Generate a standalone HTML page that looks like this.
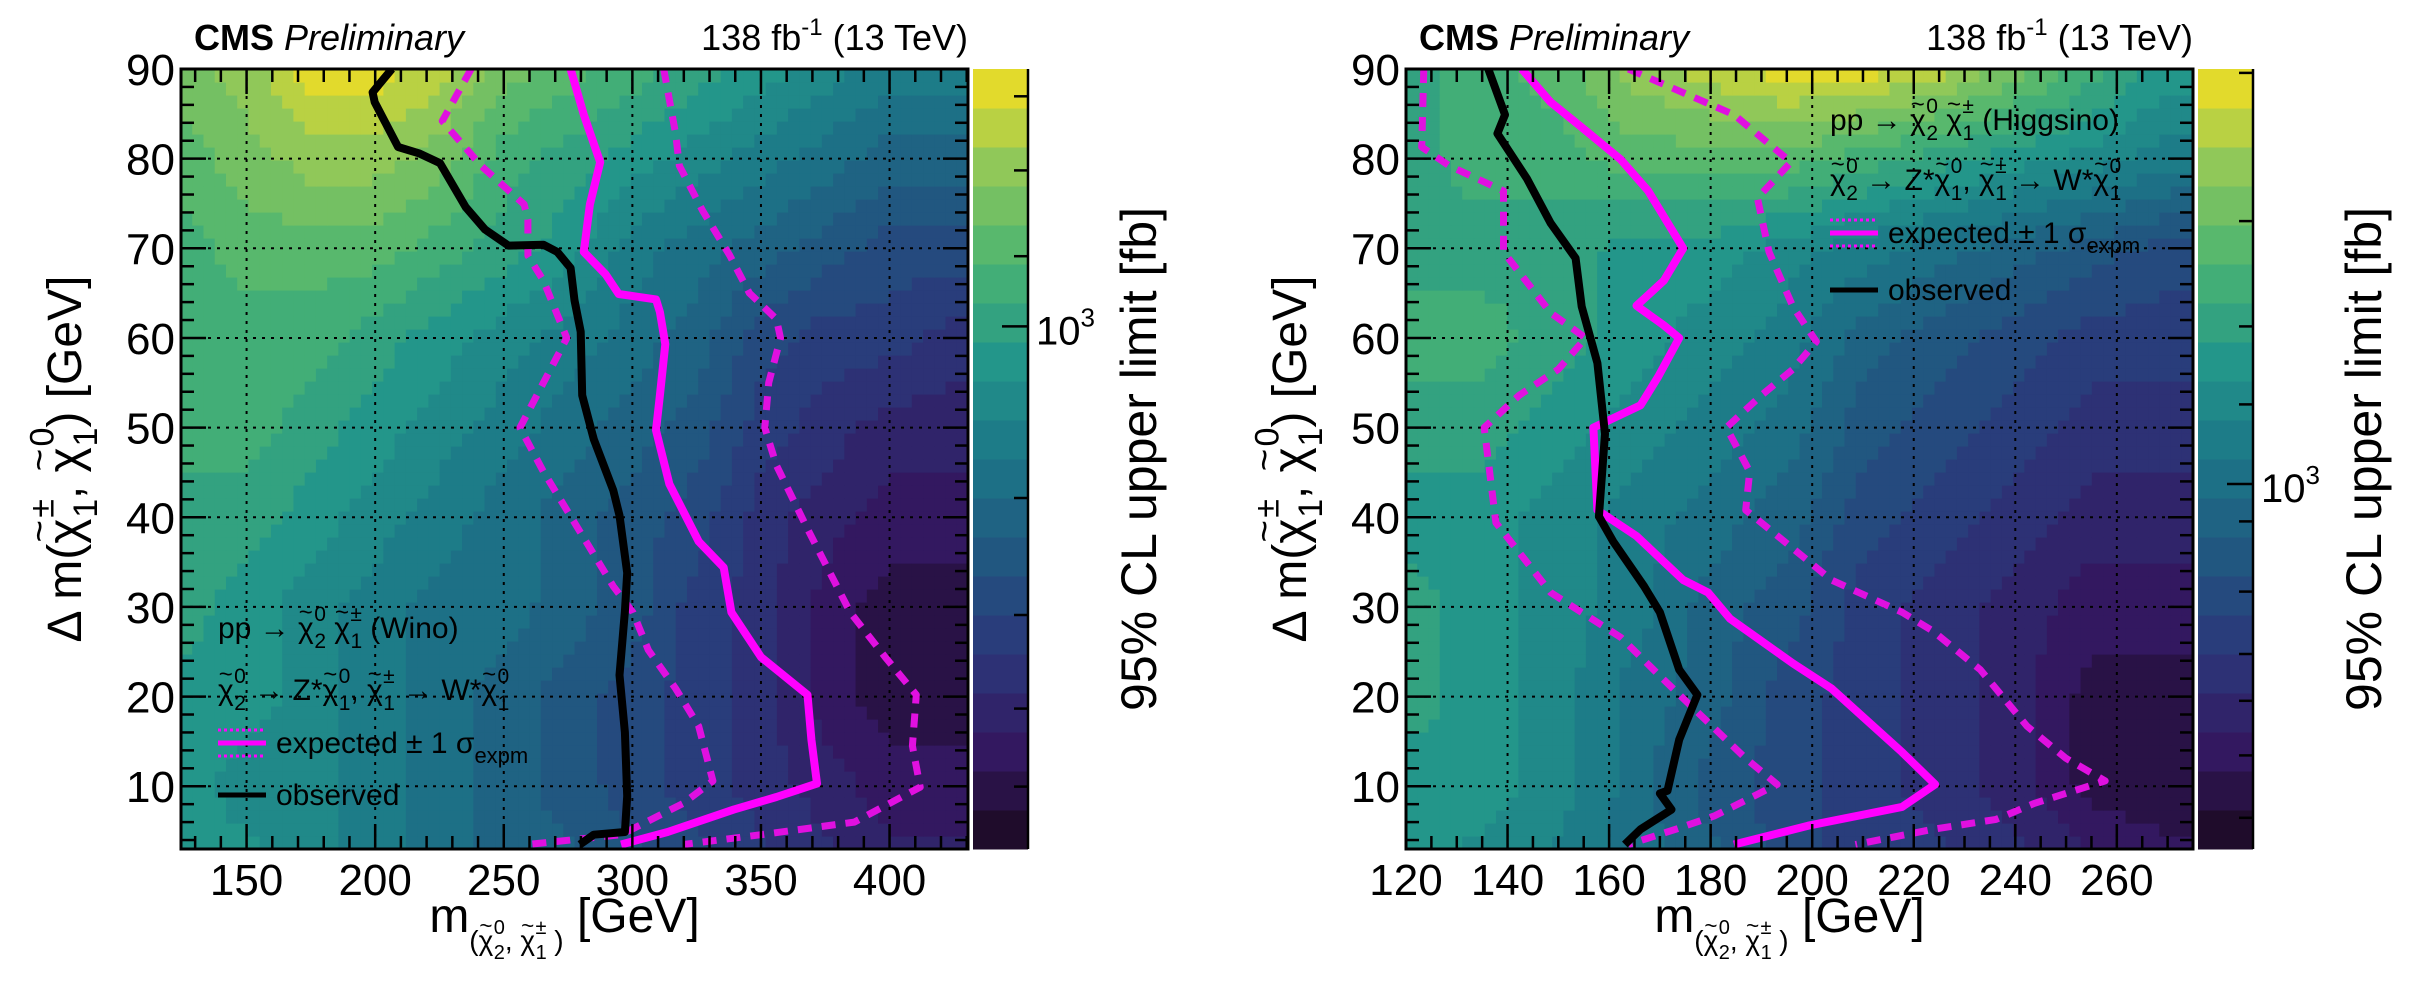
<!DOCTYPE html>
<html><head><meta charset="utf-8">
<style>
html,body{margin:0;padding:0;background:#fff;}
svg{display:block;font-family:"Liberation Sans",Arial,sans-serif;}
</style></head>
<body>
<svg id="fig" width="2435" height="998" viewBox="0 0 2435 998" xmlns="http://www.w3.org/2000/svg"></svg>
<script>
// ---------- DATA (Wino, left) ----------
const winoXGrid = [125,150,175,200,225,250,275,300,325,350,375,400,425];
const winoYGrid = [90,80,70,60,50,40,30,20,10,0];
const winoLevels = [
 [16,17,19,19,18,16,15,14,13,12,11,10,10],
 [15,16,17,17,16,14,13,12,11,10,9,8,8],
 [14,15,15,15,14,13,12,10,9,8,7,6,6],
 [14,14,14,13,12,11,10,9,8,6,5,5,4],
 [14,14,13,12,11,10,9,8,7,5,4,3,3],
 [13,13,12,11,10,9,8,7,6,4,3,2,2],
 [13,12,11,10,9,9,8,7,5,4,2,1,1],
 [12,12,11,10,9,8,7,6,5,4,2,1,1],
 [12,11,11,10,9,8,7,6,5,4,3,2,2],
 [12,12,11,10,9,8,8,7,6,5,4,3,3]];
const winoObsX = [206.5,199,199.8,208.9,217,225.2,235.2,242.7,251.8,265.4,270.8,276,277.5,279.9,280.5,285,292.6,295,298,297.1,295,297.1,298,297.1,285,279.6];
const winoObsY = [90,87.4,86.3,81.3,80.6,79.5,74.6,72.1,70.3,70.4,69.6,67.8,64.2,60.7,53.6,48.7,43,40.2,33.8,29.5,22.4,16,8.9,4.9,4.6,3.5];
const winoExpX = [276,281.1,287.5,283.5,281.1,289.6,294.7,309.2,310.7,312.8,310.7,309.2,314.4,325.8,335.5,338.5,350,368.1,369.6,371.8,356,339.4,313.7,295.6];
const winoExpY = [90,84.9,79.6,74.9,69.6,67.1,64.9,64.3,62.9,59.3,53.6,49.7,43.7,37.3,34.4,29.4,24.4,20.2,15.2,10.3,8.8,7.4,4.9,3.5];
const winoExpDnX = [237.3,226.1,241.2,257.9,259.4,259.4,265.4,274.5,265.4,256.3,265.4,277.5,292.6,300.2,306.2,316.8,325.8,331.3,319.8,295.6,259.4];
const winoExpDnY = [90,84.2,79.2,74.9,73.2,69.2,66.4,60,55,50,45.1,39.4,32.3,29.4,25.2,20.9,16.7,10.6,8.1,4.6,3.5];
const winoExpUpX = [312.2,316.8,318.3,327.3,337.9,345.5,356,357.6,353,351.5,356,368.1,384.7,398.3,410.4,408.9,411.9,386.3,350,319.8];
const winoExpUpY = [90,82.8,79.2,74.2,69.2,65,62.1,60,55,50,45.8,38.7,29.4,24.4,20.2,14.5,9.9,6,4.6,3.5];
const winoXTicks = [150,200,250,300,350,400];
// ---------- DATA (Higgsino, right) ----------
const higXGrid = [120,135,150,165,180,195,210,225,240,255,270];
const higYGrid = [90,80,70,60,50,40,30,20,10,0];
const higLevels = [
 [13,14,15,17,18,19,19,18,16,14,12],
 [13,14,14,15,15,15,14,13,12,11,10],
 [13,13,13,12,12,11,10,9,8,7,6],
 [14,14,13,12,11,10,8,7,6,5,5],
 [13,13,12,11,10,9,7,6,5,4,4],
 [12,12,11,10,9,8,6,5,4,3,3],
 [13,12,11,10,8,7,5,4,3,2,2],
 [13,12,11,9,8,6,5,4,3,1,1],
 [12,12,11,9,7,6,5,4,3,1,1],
 [12,11,10,9,8,6,5,5,4,3,2]];
const higObsX = [136.2,139.5,138,143.8,148.5,153.4,154.6,157.7,159.2,158,160.8,166.9,170,173.8,177.4,173.8,171.5,170,172.3,166.2,163.1];
const higObsY = [90,84.9,82.8,77.8,72.8,68.9,63.5,57.2,49.3,40.1,37.3,32.3,29.4,23,20.2,15.2,9.5,9.2,7.4,5.2,3.5];
const higExpX = [142.8,148.5,154.6,162.3,167.7,174.6,170.8,165.4,170.8,173.8,169.7,166.2,156.9,157.7,165.4,174.6,179.5,183.8,196.2,203.8,217.7,224.2,217.7,199.2,184.6];
const higExpY = [90,86.3,83.5,79.9,76.4,70,66.4,63.6,61.4,60,55.7,52.5,50,40.8,37.9,33,31.6,28.7,23.7,20.9,13.8,10.2,7.7,5.6,3.5];
const higExpDnX = [123.5,123.1,128.5,139.2,139.2,148.5,155.4,150,142.3,135.4,137.7,148.5,162.3,170,177.7,186.9,193.1,180.8,173.1,163.8];
const higExpDnY = [90,81.3,79.2,76.4,69.6,62.8,60,56.5,53.6,50,39.4,31.6,26.6,22.3,18.1,13.1,10.2,6.7,5.2,3.5];
const higExpUpX = [163.8,184.6,195.8,189.2,191.5,196.2,200.8,196.2,190,183.1,187.7,186.9,191.5,203.8,217.7,223.8,233.1,242.3,250,257.7,243.8,236.2,223.8,208.5];
const higExpUpY = [90,84.9,79.6,75.6,69.6,63.5,59.6,56.5,53.6,50,45.1,40.8,38.7,33,29.4,27.3,23,16.7,13.1,10.6,8.1,6.3,5.2,3.5];
const higXTicks = [120,140,160,180,200,220,240,260];
const yTicks = [10,20,30,40,50,60,70,80,90];

const NS='http://www.w3.org/2000/svg';
const svg=document.getElementById('fig');
function mk(tag,attrs,parent){const e=document.createElementNS(NS,tag);for(const k in attrs)e.setAttribute(k,attrs[k]);(parent||svg).appendChild(e);return e;}

// chi with tilde, subscript and superscript; returns markup ending with an open tspan at baseline
function chi(fs,sub,sup){
 const ss=Math.round(fs*0.7);
 return `χ<tspan dx="${(-0.5*fs).toFixed(1)}" dy="${(-0.6*fs).toFixed(1)}" font-size="${(0.8*fs).toFixed(1)}">~</tspan>`+
  `<tspan font-size="${ss}" dx="${(0.05*fs).toFixed(1)}" dy="${(0.93*fs).toFixed(1)}">${sub}</tspan>`+
  `<tspan font-size="${ss}" dx="${(-0.56*ss).toFixed(1)}" dy="${(-0.9*fs).toFixed(1)}">${sup}</tspan>`+
  `<tspan dy="${(0.57*fs).toFixed(1)}">`;
}

// ROOT viridis
const vr=[26,51,43,33,28,35,74,144,246],vg=[9,24,55,87,118,150,180,200,222],vb=[30,96,122,128,135,138,114,89,33];
function vir(t){t=Math.max(0,Math.min(1,t));const p=t*8,i=Math.min(7,Math.floor(p)),f=p-i;
 const c=a=>Math.round(a[i]+(a[i+1]-a[i])*f);return `rgb(${c(vr)},${c(vg)},${c(vb)})`;}
const NB=20;
function bandColor(k){return vir((k+0.5)/NB);}

function drawPlot(o){
 const g=mk('g',{});
 
 
 const L=o.L,T=69,W=787,H=780,B=T+H;
 const sx=v=>L+(v-o.xmin)/(o.xmax-o.xmin)*W;
 const sy=v=>B-(v-o.ymin)/(o.ymax-o.ymin)*H;
 const clipId='clip'+o.name;
 const cp=mk('clipPath',{id:clipId},g);mk('rect',{x:L,y:T,width:W,height:H},cp);
 const hm=mk('g',{'clip-path':`url(#${clipId})`},g);
 
 
 const NX=70,NY=60;
 const xs=o.xg,ys=o.yg,lv=o.lv;
 function interp(x,y){
  let i=0;while(i<xs.length-2&&x>xs[i+1])i++;
  let j=0;while(j<ys.length-2&&y<ys[j+1])j++;
  let fx=(x-xs[i])/(xs[i+1]-xs[i]);fx=Math.max(0,Math.min(1,fx));
  let fy=(ys[j]-y)/(ys[j]-ys[j+1]);fy=Math.max(0,Math.min(1,fy));
  const a=lv[j][i],b=lv[j][i+1],c=lv[j+1][i],d=lv[j+1][i+1];
  return (a*(1-fx)+b*fx)*(1-fy)+(c*(1-fx)+d*fx)*fy;}
 for(let r=0;r<NY;r++){for(let c=0;c<NX;c++){
  const x0=o.xmin+(o.xmax-o.xmin)*c/NX,x1=o.xmin+(o.xmax-o.xmin)*(c+1)/NX;
  const y0=o.ymin+(o.ymax-o.ymin)*r/NY,y1=o.ymin+(o.ymax-o.ymin)*(r+1)/NY;
  const v=interp((x0+x1)/2,(y0+y1)/2);
  const k=Math.max(0,Math.min(NB-1,Math.round(v)));
  mk('rect',{x:sx(x0),y:sy(y1),width:sx(x1)-sx(x0)+0.6,height:sy(y0)-sy(y1)+0.6,fill:bandColor(k)},hm);
 }}
 const gr=mk('g',{stroke:'#000','stroke-width':2,'stroke-dasharray':'3,6'},g);
 
 
 o.xt.forEach(v=>{if(v>o.xmin&&v<o.xmax)mk('line',{x1:sx(v),x2:sx(v),y1:T,y2:B},gr);});
 yTicks.forEach(v=>{if(v<o.ymax)mk('line',{x1:L,x2:L+W,y1:sy(v),y2:sy(v)},gr);});
 const cg=mk('g',{'clip-path':`url(#${clipId})`,fill:'none','stroke-linejoin':'round'},g);
 function curve(X,Y,name,attrs){const p=X.map((x,i)=>`${i?'L':'M'}${sx(x).toFixed(1)},${sy(Y[i]).toFixed(1)}`).join('');
  const e=mk('path',Object.assign({d:p},attrs),cg);
  
  }
 curve(o.dnX,o.dnY,'expected-minus-1sigma',{stroke:'#e010e0','stroke-width':7,'stroke-dasharray':'14,10'});
 curve(o.upX,o.upY,'expected-plus-1sigma',{stroke:'#e010e0','stroke-width':7,'stroke-dasharray':'14,10'});
 curve(o.expX,o.expY,'expected-limit',{stroke:'#ff00ff','stroke-width':8});
 curve(o.obsX,o.obsY,'observed-limit',{stroke:'#000','stroke-width':8});
 const tk=mk('g',{stroke:'#000','stroke-width':2.5},g);
 for(let v=Math.ceil(o.xmin/o.xminor)*o.xminor;v<=o.xmax;v+=o.xminor){
  const maj=o.xt.includes(v),len=maj?25:13;
  mk('line',{x1:sx(v),x2:sx(v),y1:B,y2:B-len},tk);mk('line',{x1:sx(v),x2:sx(v),y1:T,y2:T+len},tk);}
 for(let v=4;v<=90;v+=2){const maj=v%10===0,len=maj?25:13;
  mk('line',{x1:L,x2:L+len,y1:sy(v),y2:sy(v)},tk);mk('line',{x1:L+W,x2:L+W-len,y1:sy(v),y2:sy(v)},tk);}
 mk('rect',{x:L,y:T,width:W,height:H,fill:'none',stroke:'#000','stroke-width':3},g);
 o.xt.forEach(v=>{const t=mk('text',{x:sx(v),y:B+46,'font-size':44,'text-anchor':'middle'},g);t.textContent=v;
  });
 yTicks.forEach(v=>{const t=mk('text',{x:L-6,y:sy(v)+16,'font-size':44,'text-anchor':'end'},g);t.textContent=v;
  });
 const cbx=L+W+5,cbw=55;
 const cb=mk('g',{},g);
 
 
 for(let k=0;k<NB;k++){mk('rect',{x:cbx,y:B-(k+1)*H/NB,width:cbw,height:H/NB+0.5,fill:bandColor(k)},cb);}
 mk('line',{x1:cbx+cbw,x2:cbx+cbw,y1:T,y2:B,stroke:'#000','stroke-width':2.5},cb);
 o.cbTicks.forEach((f,i)=>{const len=(i===o.cbMajor)?26:14;
  mk('line',{x1:cbx+cbw-len,x2:cbx+cbw,y1:T+f*H,y2:T+f*H,stroke:'#000','stroke-width':2.5},cb);});
 const ct=mk('text',{x:cbx+cbw+8,y:T+o.cbTicks[o.cbMajor]*H+18,'font-size':40},g);
 
 ct.innerHTML='10<tspan font-size="26" dy="-18">3</tspan>';
 const ctt=mk('text',{x:0,y:0,'font-size':50,'text-anchor':'middle',transform:`translate(${L+W+188},${T+H/2}) rotate(-90)`},g);
 
 ctt.textContent='95% CL upper limit [fb]';
 const h1=mk('text',{x:L+13,y:50,'font-size':36},g);
 
 h1.innerHTML='<tspan font-weight="bold">CMS</tspan> <tspan font-style="italic">Preliminary</tspan>';
 const h2=mk('text',{x:L+W,y:50,'font-size':36,'text-anchor':'end'},g);
 
 h2.innerHTML='138 fb<tspan font-size="24" dy="-15">-1</tspan><tspan dy="15"> (13 TeV)</tspan>';
 // x axis title
 const xt=mk('text',{x:L+W/2-10,y:932,'font-size':48,'text-anchor':'middle'},g);
 
 xt.innerHTML='m<tspan font-size="28" dy="18">(</tspan><tspan font-size="28">'+chi(28,'2','0')+', </tspan>'+chi(28,'1','±')+' )</tspan></tspan><tspan dy="-18"> [GeV]</tspan>';
 // y axis title
 const yt=mk('text',{x:0,y:0,'font-size':48,'text-anchor':'middle',transform:`translate(${L-100},${T+H/2}) rotate(-90)`},g);
 
 yt.innerHTML='Δ m(<tspan>'+chi(48,'1','±')+', </tspan></tspan>'+chi(48,'1','0')+') [GeV]</tspan>';
 // legend
 const lg=mk('g',{'font-size':30},g);
 
 const lx=o.legX,ly=o.legY,tx=lx+58;
 const l1=mk('text',{x:lx,y:ly[0]},lg);
 l1.innerHTML='pp → <tspan>'+chi(30,'2','0')+' </tspan></tspan>'+chi(30,'1','±')+`   (${o.model})</tspan>`;
 
 const l2=mk('text',{x:lx,y:ly[1]},lg);
 l2.innerHTML='<tspan>'+chi(30,'2','0')+' → Z*</tspan></tspan><tspan>'+chi(30,'1','0')+',  </tspan></tspan><tspan>'+chi(30,'1','±')+' → W*</tspan></tspan>'+chi(30,'1','0')+'</tspan>';
 
 const e1=mk('g',{},lg);
 mk('line',{x1:lx,x2:lx+48,y1:ly[2]-10,y2:ly[2]-10,stroke:'#ff00ff','stroke-width':5},e1);
 mk('line',{x1:lx,x2:lx+48,y1:ly[2]-23,y2:ly[2]-23,stroke:'#ff00ff','stroke-width':3,'stroke-dasharray':'3,3'},e1);
 mk('line',{x1:lx,x2:lx+48,y1:ly[2]+3,y2:ly[2]+3,stroke:'#ff00ff','stroke-width':3,'stroke-dasharray':'3,3'},e1);
 const t3=mk('text',{x:tx,y:ly[2]},e1);t3.innerHTML='expected ± 1 σ<tspan font-size="22" dy="10">expm</tspan>';
 const e2=mk('g',{},lg);
 mk('line',{x1:lx,x2:lx+48,y1:ly[3]-10,y2:ly[3]-10,stroke:'#000','stroke-width':5},e2);
 const t4=mk('text',{x:tx,y:ly[3]},e2);t4.textContent='observed';
}

drawPlot({name:'wino-panel',L:181,xmin:124.5,xmax:430.5,ymin:3,ymax:90,xg:winoXGrid,yg:winoYGrid,lv:winoLevels,
 obsX:winoObsX,obsY:winoObsY,expX:winoExpX,expY:winoExpY,dnX:winoExpDnX,dnY:winoExpDnY,upX:winoExpUpX,upY:winoExpUpY,
 xt:winoXTicks,xminor:10,cbTicks:[0.035,0.13,0.24,0.33,0.55,0.70,0.82,0.92],cbMajor:3,
 legX:218,legY:[638,700,753,805],model:'Wino'});
drawPlot({name:'higgsino-panel',L:1406,xmin:120,xmax:275,ymin:3,ymax:90,xg:higXGrid,yg:higYGrid,lv:higLevels,
 obsX:higObsX,obsY:higObsY,expX:higExpX,expY:higExpY,dnX:higExpDnX,dnY:higExpDnY,upX:higExpUpX,upY:higExpUpY,
 xt:higXTicks,xminor:5,cbTicks:[0.005,0.195,0.33,0.43,0.532,0.58,0.67,0.75,0.81,0.88,0.96],cbMajor:4,
 legX:1830,legY:[130,190,243,300],model:'Higgsino'});
</script>
</body></html>
